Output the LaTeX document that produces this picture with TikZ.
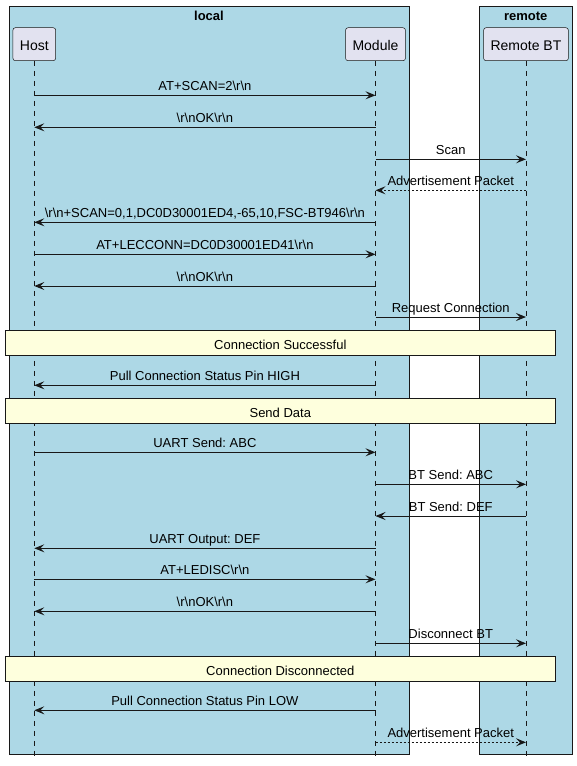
\documentclass[tikz,border=0pt]{standalone}
\usepackage{fontspec}
\setmainfont{Liberation Sans}
\usetikzlibrary{arrows.meta}
\frenchspacing

\newcommand{\CRLF}{\textbackslash r\textbackslash n}

\begin{document}
\begin{tikzpicture}[
            x=1pt,y=-1pt,
            font=\fontsize{13}{15}\selectfont,
            grp/.style={draw=lnx,line width=0.5pt,fill=bgx},
            part/.style={draw=lnx,line width=0.5pt,fill=ptx,rounded corners=2.5pt,
                         minimum height=33pt,inner xsep=7pt,text height=12pt,text depth=0pt,
                         font=\fontsize{14}{16}\selectfont},
            note/.style={draw=lnx,line width=0.5pt,fill=ntx,minimum width=550pt,minimum height=24.5pt,
                         text height=13pt,text depth=0pt},
            life/.style={draw=lnx,line width=0.5pt,dash pattern=on 5pt off 5pt},
            call/.style={draw=lnx,line width=1pt,-{Stealth[length=10pt,width=8pt,inset=4pt]}},
            back/.style={call,dash pattern=on 2pt off 2pt},
            lbl/.style={midway,anchor=base,yshift=5pt,inner sep=0pt}
        ]
            \definecolor{lnx}{HTML}{181818}
            \definecolor{bgx}{HTML}{ADD8E6}
            \definecolor{ptx}{HTML}{E2E2F0}
            \definecolor{ntx}{HTML}{FEFFDD}

            \useasboundingbox (0,0) rectangle (577,766);

            % group boxes
            \draw [grp] (9,6)     rectangle (409,754);
            \draw [grp] (479.7,6) rectangle (572,754);
            \node (tl) [anchor=base,font=\bfseries\fontsize{13}{15}\selectfont] at (209,20.5)   {local};
            \node (tr) [anchor=base,font=\bfseries\fontsize{13}{15}\selectfont] at (525.8,20.5) {remote};

            % participants
            \node (H) [part] at (34.3,44.2)  {Host};
            \node (M) [part] at (375.5,44.2) {Module};
            \node (R) [part] at (526,44.2)   {Remote BT};

            \coordinate (end) at (0,757);
            \draw [life] (H.south) -- (H |- end);
            \draw [life] (M.south) -- (M |- end);
            \draw [life] (R.south) -- (R |- end);

            % notes
            \node (n1) [note] at (280.3,342.9) {Connection Successful};
            \node (n2) [note] at (280.3,410.6) {Send Data};
            \node (n3) [note] at (280.3,668.9) {Connection Disconnected};

            % message rows
            \coordinate (m1)  at (0,95.3);
            \coordinate (m2)  at (0,127.3);
            \coordinate (m3)  at (0,159.3);
            \coordinate (m4)  at (0,190.3);
            \coordinate (m5)  at (0,222.3);
            \coordinate (m6)  at (0,254.3);
            \coordinate (m7)  at (0,286);
            \coordinate (m8)  at (0,317);
            \coordinate (m9)  at (0,385.3);
            \coordinate (m10) at (0,452.3);
            \coordinate (m11) at (0,484.3);
            \coordinate (m12) at (0,516);
            \coordinate (m13) at (0,548.3);
            \coordinate (m14) at (0,579.3);
            \coordinate (m15) at (0,611.3);
            \coordinate (m16) at (0,643.3);
            \coordinate (m17) at (0,710.3);
            \coordinate (m18) at (0,742.3);

            \draw [call] (H |- m1)  -- node[lbl] {AT+SCAN=2\CRLF}                                   (M |- m1);
            \draw [call] (M |- m2)  -- node[lbl] {\CRLF OK\CRLF}                                    (H |- m2);
            \draw [call] (M |- m3)  -- node[lbl] {Scan}                                             (R |- m3);
            \draw [back] (R |- m4)  -- node[lbl] {Advertisement Packet}                             (M |- m4);
            \draw [call] (M |- m5)  -- node[lbl] {\CRLF+SCAN=0,1,DC0D30001ED4,-65,10,FSC-BT946\CRLF} (H |- m5);
            \draw [call] (H |- m6)  -- node[lbl] {AT+LECCONN=DC0D30001ED41\CRLF}                    (M |- m6);
            \draw [call] (M |- m7)  -- node[lbl] {\CRLF OK\CRLF}                                    (H |- m7);
            \draw [call] (M |- m8)  -- node[lbl] {Request Connection}                               (R |- m8);
            \draw [call] (M |- m9)  -- node[lbl] {Pull Connection Status Pin HIGH}                  (H |- m9);
            \draw [call] (H |- m10) -- node[lbl] {UART Send: ABC}                                   (M |- m10);
            \draw [call] (M |- m11) -- node[lbl] {BT Send: ABC}                                     (R |- m11);
            \draw [call] (R |- m12) -- node[lbl] {BT Send: DEF}                                     (M |- m12);
            \draw [call] (M |- m13) -- node[lbl] {UART Output: DEF}                                 (H |- m13);
            \draw [call] (H |- m14) -- node[lbl] {AT+LEDISC\CRLF}                                   (M |- m14);
            \draw [call] (M |- m15) -- node[lbl] {\CRLF OK\CRLF}                                    (H |- m15);
            \draw [call] (M |- m16) -- node[lbl] {Disconnect BT}                                    (R |- m16);
            \draw [call] (M |- m17) -- node[lbl] {Pull Connection Status Pin LOW}                   (H |- m17);
            \draw [back] (M |- m18) -- node[lbl] {Advertisement Packet}                             (R |- m18);
        \end{tikzpicture}
\end{document}
